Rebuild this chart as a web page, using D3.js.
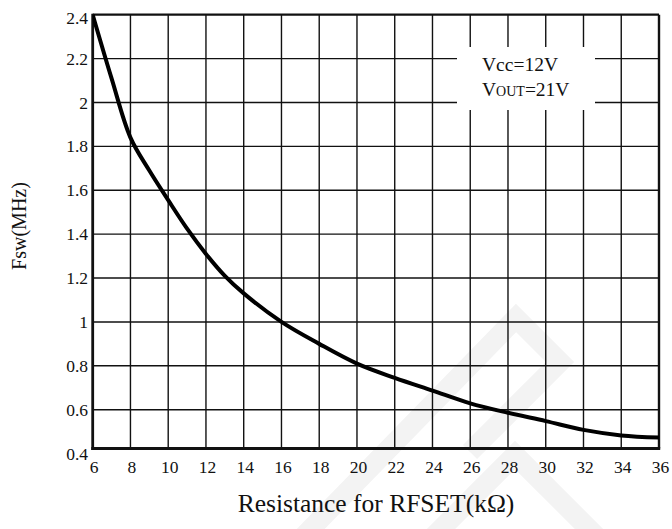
<!DOCTYPE html>
<html>
<head>
<meta charset="utf-8">
<script src="https://cdn.jsdelivr.net/npm/d3@7"></script>
<style>
  html, body { margin: 0; padding: 0; background: #fff; }
  svg { display: block; }
</style>
</head>
<body>
<svg id="chart" width="672" height="529"></svg>
<script>
// Switching frequency vs. RFSET resistance
const resistance = [6, 7, 8, 9, 10, 11, 12, 13, 14, 16, 18, 20, 22, 24, 26, 28, 30, 32, 34, 36];
const fswMHz     = [2.40, 2.11, 1.84, 1.69, 1.555, 1.425, 1.31, 1.21, 1.13, 1.00, 0.90, 0.81, 0.745, 0.687, 0.629, 0.586, 0.548, 0.508, 0.483, 0.473];

const xTicks = [6, 8, 10, 12, 14, 16, 18, 20, 22, 24, 26, 28, 30, 32, 34, 36];
const yTicks = [0.4, 0.6, 0.8, 1, 1.2, 1.4, 1.6, 1.8, 2, 2.2, 2.4];
const conditions = ["Vcc=12V", "VOUT=21V"];

const FONT = "'Liberation Serif', 'Times New Roman', 'DejaVu Serif', serif";

const svg = d3.select("#chart");

const plot = { left: 92.7, right: 659, top: 14.7, bottom: 448.5 };

const x = d3.scaleLinear().domain([6, 36]).range([plot.left, plot.right]);
const y = d3.scaleLinear().domain([0.4, 2.4]).range([453.6, plot.top]);

// faint background logo
const logo = svg.append("g").attr("fill", "none").attr("stroke", "#f3f3f3").attr("stroke-width", 20);
logo.append("path").attr("d", "M300,540 L516,318 L560,362 L470,452");
logo.append("path").attr("d", "M430,540 L515,455 L600,540");

// grid
const grid = svg.append("g").attr("stroke", "#111").attr("stroke-width", 1.4);
grid.selectAll("line.v")
  .data(xTicks.slice(1, -1))
  .join("line")
  .attr("class", "v")
  .attr("x1", d => x(d)).attr("x2", d => x(d))
  .attr("y1", plot.top).attr("y2", plot.bottom);
grid.selectAll("line.h")
  .data(yTicks.filter(v => v > 0.4 && v < 2.4))
  .join("line")
  .attr("class", "h")
  .attr("x1", plot.left).attr("x2", plot.right)
  .attr("y1", d => y(d)).attr("y2", d => y(d));

// legend box masks the grid
svg.append("rect")
  .attr("x", 457).attr("y", 47).attr("width", 138).attr("height", 63)
  .attr("fill", "#fff");

const leg = svg.append("g").attr("font-family", FONT).attr("fill", "#111");
leg.append("text").attr("x", 482).attr("y", 70.5).attr("font-size", 19.5).text(conditions[0]);
const t2 = leg.append("text").attr("x", 482).attr("y", 95.5).attr("font-size", 19.5);
t2.append("tspan").text(conditions[1].slice(0, 1));
t2.append("tspan").attr("font-size", 14).text(conditions[1].slice(1, 4));
t2.append("tspan").text(conditions[1].slice(4));

// frame
svg.append("line").attr("x1", plot.left).attr("x2", plot.right).attr("y1", plot.top).attr("y2", plot.top)
  .attr("stroke", "#111").attr("stroke-width", 2.2);
svg.append("line").attr("x1", plot.right).attr("x2", plot.right).attr("y1", plot.top).attr("y2", plot.bottom)
  .attr("stroke", "#111").attr("stroke-width", 2.4);
svg.append("line").attr("x1", plot.left).attr("x2", plot.left).attr("y1", plot.top - 1).attr("y2", plot.bottom + 1.4)
  .attr("stroke", "#111").attr("stroke-width", 2.8);
svg.append("line").attr("x1", plot.left - 1.4).attr("x2", plot.right + 1.2).attr("y1", plot.bottom).attr("y2", plot.bottom)
  .attr("stroke", "#111").attr("stroke-width", 2.8);

// curve
svg.append("clipPath").attr("id", "clip").append("rect")
  .attr("x", plot.left).attr("y", plot.top - 4)
  .attr("width", plot.right - plot.left + 2).attr("height", plot.bottom - plot.top + 4);

const line = d3.line()
  .x((d, i) => x(resistance[i]))
  .y(d => y(d))
  .curve(d3.curveCatmullRom.alpha(0.5));

svg.append("path")
  .datum(fswMHz)
  .attr("clip-path", "url(#clip)")
  .attr("fill", "none")
  .attr("stroke", "#000")
  .attr("stroke-width", 4)
  .attr("stroke-linejoin", "round")
  .attr("d", line);

// tick labels
svg.append("g").attr("font-family", FONT).attr("fill", "#111")
  .selectAll("text")
  .data(xTicks)
  .join("text")
  .attr("x", d => x(d) + 1.5)
  .attr("y", 473)
  .attr("text-anchor", "middle")
  .attr("font-size", 17.5)
  .text(d => d);

svg.append("g").attr("font-family", FONT).attr("fill", "#111")
  .selectAll("text")
  .data(yTicks)
  .join("text")
  .attr("x", 88)
  .attr("y", d => (d === 2.4 ? y(d) + 3 : y(d)))
  .attr("dy", "0.35em")
  .attr("text-anchor", "end")
  .attr("font-size", 17.5)
  .text(d => d);

// axis titles
svg.append("text")
  .attr("font-family", FONT).attr("fill", "#111")
  .attr("x", 376).attr("y", 512)
  .attr("text-anchor", "middle")
  .attr("font-size", 25.5)
  .text("Resistance for RFSET(kΩ)");

svg.append("text")
  .attr("font-family", FONT).attr("fill", "#111")
  .attr("transform", "translate(26,226) rotate(-90)")
  .attr("text-anchor", "middle")
  .attr("font-size", 20)
  .text("Fsw(MHz)");
</script>
</body>
</html>
